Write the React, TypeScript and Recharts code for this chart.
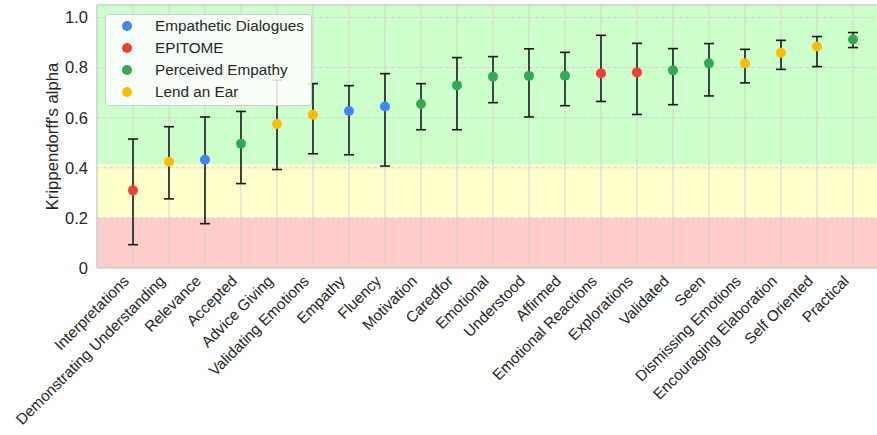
import {
  ComposedChart,
  Scatter,
  XAxis,
  YAxis,
  ReferenceArea,
  ReferenceLine,
  ErrorBar,
} from "recharts";

const categories = [
  "Interpretations",
  "Demonstrating Understanding",
  "Relevance",
  "Accepted",
  "Advice Giving",
  "Validating Emotions",
  "Empathy",
  "Fluency",
  "Motivation",
  "Caredfor",
  "Emotional",
  "Understood",
  "Affirmed",
  "Emotional Reactions",
  "Explorations",
  "Validated",
  "Seen",
  "Dismissing Emotions",
  "Encouraging Elaboration",
  "Self Oriented",
  "Practical",
];

const sources = [
  "EPITOME",
  "Lend an Ear",
  "Empathetic Dialogues",
  "Perceived Empathy",
  "Lend an Ear",
  "Lend an Ear",
  "Empathetic Dialogues",
  "Empathetic Dialogues",
  "Perceived Empathy",
  "Perceived Empathy",
  "Perceived Empathy",
  "Perceived Empathy",
  "Perceived Empathy",
  "EPITOME",
  "EPITOME",
  "Perceived Empathy",
  "Perceived Empathy",
  "Lend an Ear",
  "Lend an Ear",
  "Lend an Ear",
  "Perceived Empathy",
];

const alphaValues = [
  0.31, 0.424, 0.432, 0.496, 0.575, 0.612, 0.627, 0.645, 0.655, 0.729, 0.764,
  0.767, 0.768, 0.777, 0.781, 0.789, 0.817, 0.817, 0.859, 0.884, 0.912,
];
const lowerBounds = [
  0.093, 0.276, 0.177, 0.337, 0.393, 0.456, 0.452, 0.407, 0.552, 0.552, 0.66,
  0.603, 0.648, 0.665, 0.613, 0.652, 0.687, 0.739, 0.793, 0.804, 0.88,
];
const upperBounds = [
  0.515, 0.564, 0.603, 0.625, 0.75, 0.736, 0.728, 0.776, 0.736, 0.84, 0.844,
  0.875, 0.861, 0.929, 0.897, 0.876, 0.896, 0.873, 0.909, 0.924, 0.94,
];

const datasetNames = ["Empathetic Dialogues", "EPITOME", "Perceived Empathy", "Lend an Ear"];
const datasetColors = ["#4285F4", "#EA4335", "#34A853", "#FBBC05"];

const yTicks = [0, 0.2, 0.4, 0.6, 0.8, 1.0];
const bands = [
  { from: 0, to: 0.2, color: "#ffcccc" },
  { from: 0.2, to: 0.415, color: "#ffffcc" },
  { from: 0.415, to: 1.05, color: "#ccffcc" },
];

const FONT = '"Liberation Sans", Arial, sans-serif';
const TEXT = "#262626";

const series = datasetNames.map((name) =>
  categories
    .map((c, i) => ({
      x: i,
      y: alphaValues[i],
      err: [alphaValues[i] - lowerBounds[i], upperBounds[i] - alphaValues[i]],
      source: sources[i],
    }))
    .filter((d) => d.source === name)
);

// rotated category labels, right end pinned just left of the tick
function XTick({ x, y, payload }: any) {
  const ax = x - 3;
  const ay = y + 6;
  return (
    <text
      x={ax}
      y={ay}
      transform={`rotate(-45 ${ax} ${ay})`}
      textAnchor="end"
      fontSize={15.3}
      fontFamily={FONT}
      fill={TEXT}
    >
      {categories[payload.value]}
    </text>
  );
}

function YLabel({ viewBox }: any) {
  const cx = 52;
  const cy = viewBox.y + viewBox.height / 2;
  return (
    <text
      x={cx}
      y={cy}
      transform={`rotate(-90 ${cx} ${cy})`}
      textAnchor="middle"
      dominantBaseline="central"
      fontSize={16.7}
      fontFamily={FONT}
      fill={TEXT}
    >
      Krippendorff's alpha
    </text>
  );
}

function Dot({ cx, cy, fill }: any) {
  return <circle cx={cx} cy={cy} r={5} fill={fill} />;
}

export default function App() {
  return (
    <div style={{ position: "fixed", left: 0, top: 0, width: 877, height: 435, overflow: "hidden", background: "#fff" }}>
      <ComposedChart width={877} height={435} margin={{ top: 5, right: 0, left: 0, bottom: 0 }}>
        <XAxis
          type="number"
          dataKey="x"
          domain={[-1, 20.667]}
          allowDataOverflow
          ticks={categories.map((_, i) => i)}
          interval={0}
          tick={<XTick />}
          tickLine={false}
          axisLine={false}
          height={167}
        />
        <YAxis
          type="number"
          dataKey="y"
          domain={[0, 1.05]}
          allowDataOverflow
          ticks={yTicks}
          interval={0}
          tickFormatter={(v) => (v === 0 ? "0" : Number(v).toFixed(1))}
          tick={{ fontSize: 16.5, fill: TEXT, fontFamily: FONT }}
          tickLine={false}
          tickSize={0}
          tickMargin={9}
          axisLine={false}
          width={97}
          label={<YLabel />}
        />
        {bands.map((b) => (
          <ReferenceArea key={b.from} y1={b.from} y2={b.to} fill={b.color} fillOpacity={1} stroke="none" />
        ))}
        {categories.map((_, i) => (
          <ReferenceLine key={"v" + i} x={i} stroke="#d2d2d2" strokeWidth={1} />
        ))}
        {yTicks
          .filter((t) => t > 0)
          .map((t) => (
            <ReferenceLine key={"h" + t} y={t} stroke="#d8cfd8" strokeWidth={1} strokeDasharray="4 2" />
          ))}
        <ReferenceLine y={0} stroke="#cccccc" strokeWidth={1.5} />
        <ReferenceLine y={1.05} stroke="#cccccc" strokeWidth={1.5} />
        <ReferenceLine x={-1} stroke="#cccccc" strokeWidth={1.5} />
        {series.map((data, k) => (
          <Scatter
            key={datasetNames[k]}
            name={datasetNames[k]}
            data={data}
            fill={datasetColors[k]}
            shape={<Dot />}
            isAnimationActive={false}
          >
            <ErrorBar dataKey="err" direction="y" width={5} strokeWidth={1.6} stroke="#1a1a1a" />
          </Scatter>
        ))}
      </ComposedChart>
      <div
        style={{
          position: "absolute",
          left: 105,
          top: 14,
          width: 205,
          height: 90,
          border: "1px solid #cccccc",
          borderRadius: 4,
          background: "rgba(255,255,255,0.85)",
          fontFamily: FONT,
          fontSize: 15.3,
          color: TEXT,
        }}
      >
        {datasetNames.map((name, k) => (
          <div key={name} style={{ position: "absolute", left: 0, top: -0.5 + k * 22, height: 22, display: "flex", alignItems: "center" }}>
            <span
              style={{
                display: "inline-block",
                width: 10,
                height: 10,
                borderRadius: "50%",
                background: datasetColors[k],
                marginLeft: 16,
                marginRight: 23,
              }}
            />
            <span style={{ whiteSpace: "nowrap" }}>{name}</span>
          </div>
        ))}
      </div>
    </div>
  );
}
